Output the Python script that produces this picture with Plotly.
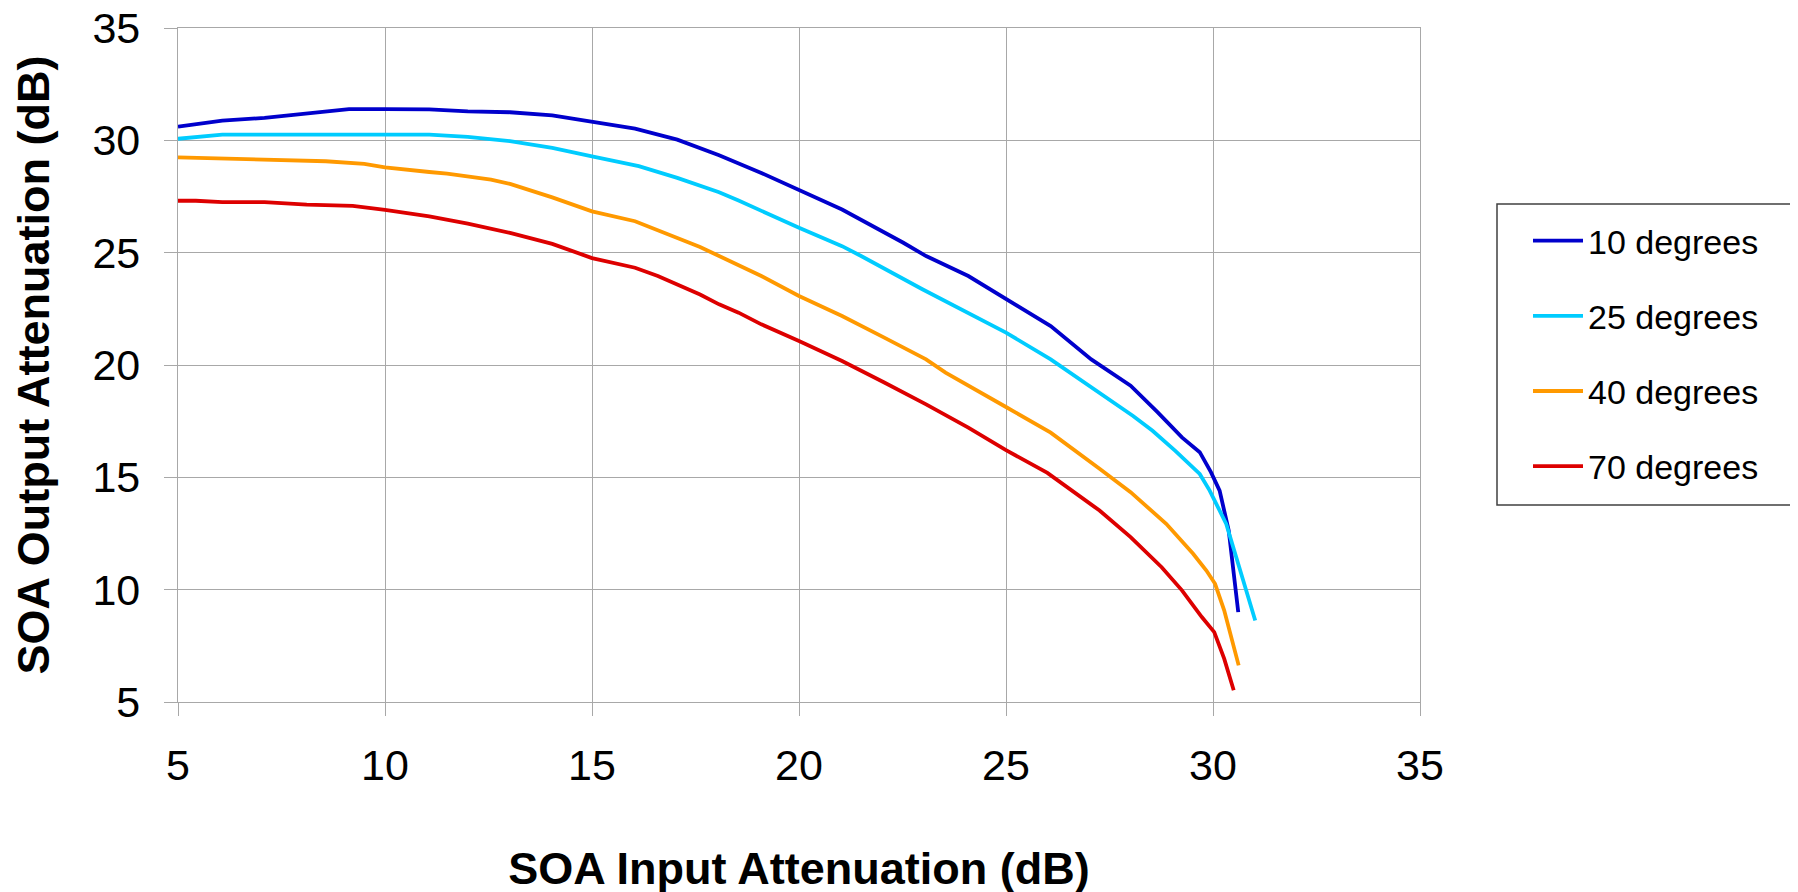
import plotly.graph_objects as go

x_10 = [5, 6.07, 7.09, 8.02, 8.67, 9.13, 10, 11.07, 12, 13.02, 14.04, 15, 16.04, 17.06, 18.07, 19.09, 20, 21.04, 22.52, 23.07, 24.09, 25, 26.08, 27.06, 28.01, 28.66, 29.25, 29.68, 29.95, 30.16, 30.38, 30.61]
y_10 = [30.61, 30.88, 31.0, 31.17, 31.32, 31.39, 31.39, 31.38, 31.29, 31.25, 31.11, 30.82, 30.52, 30.03, 29.34, 28.55, 27.81, 26.92, 25.44, 24.85, 23.96, 22.95, 21.73, 20.25, 19.08, 17.9, 16.78, 16.12, 15.23, 14.41, 12.63, 9.0]

x_25 = [5, 6.07, 11.07, 12, 13.02, 14.04, 15, 16.13, 17.06, 18.07, 18.54, 19.09, 20, 21.04, 21.5, 22.98, 24.09, 25, 26.08, 27.06, 28.07, 28.54, 29.09, 29.68, 29.92, 30.32, 31.02]
y_25 = [30.07, 30.25, 30.25, 30.15, 29.96, 29.66, 29.29, 28.85, 28.33, 27.69, 27.32, 26.85, 26.11, 25.29, 24.85, 23.37, 22.33, 21.44, 20.25, 18.99, 17.73, 17.07, 16.18, 15.15, 14.41, 12.93, 8.63]

x_40 = [5, 6.07, 7.09, 8.57, 9.5, 10, 11.07, 11.5, 12.56, 13.02, 14.04, 15, 16.04, 17.06, 17.61, 18.07, 19.09, 20, 21.04, 22.06, 23.07, 23.54, 24.09, 25, 26.08, 26.69, 27.26, 28.01, 28.87, 29.52, 29.84, 30.05, 30.27, 30.62]
y_40 = [29.24, 29.18, 29.12, 29.07, 28.95, 28.8, 28.59, 28.52, 28.25, 28.06, 27.46, 26.84, 26.4, 25.63, 25.25, 24.85, 23.96, 23.07, 22.18, 21.22, 20.25, 19.66, 19.07, 18.13, 16.99, 16.18, 15.38, 14.34, 12.93, 11.6, 10.85, 10.26, 9.08, 6.63]

x_70 = [5, 5.43, 6.07, 7.09, 8.11, 9.22, 10, 11.07, 12, 13.02, 14.04, 15, 16.04, 16.59, 17.61, 18.07, 18.54, 19.09, 20, 21.04, 22.06, 23.07, 24.09, 25, 26.0, 27.26, 28.01, 28.76, 29.25, 29.73, 30.03, 30.27, 30.5]
y_70 = [27.31, 27.31, 27.25, 27.25, 27.14, 27.08, 26.91, 26.62, 26.29, 25.88, 25.39, 24.76, 24.33, 23.96, 23.14, 22.7, 22.33, 21.81, 21.07, 20.18, 19.22, 18.25, 17.21, 16.21, 15.2, 13.52, 12.34, 11.0, 9.97, 8.78, 8.11, 6.93, 5.52]

series_names = ["10 degrees", "25 degrees", "40 degrees", "70 degrees"]
series_colors = ["#0000CC", "#00CCFF", "#FF9900", "#DD0000"]
tick_vals = [5, 10, 15, 20, 25, 30, 35]

FONT = "Liberation Sans, Arial, sans-serif"

W, H = 1798, 892
ML, MR, MT, MB = 170, 386, 20, 198   # body has an 8px default margin
PW = W - ML - MR
PH = H - MT - MB

def px_x(px):
    # page pixel -> paper x
    return (px - 8 - ML) / PW

def px_y(py):
    return 1 - (py - 8 - MT) / PH

fig = go.Figure()
for name, color, xs, ys in zip(series_names, series_colors,
                                [x_10, x_25, x_40, x_70],
                                [y_10, y_25, y_40, y_70]):
    fig.add_trace(go.Scatter(x=xs, y=ys, mode="lines", name=name, legendgroup=name,
                             line=dict(color=color, width=3.8)))

grid = "#a8a8a8"
fig.update_layout(
    width=W, height=H,
    paper_bgcolor="white", plot_bgcolor="white",
    margin=dict(l=ML, r=MR, t=MT, b=MB, pad=0, autoexpand=False),
    font=dict(family=FONT, color="black"),
    showlegend=True,
    legend=dict(
        x=px_x(1528), xanchor="left", y=px_y(212), yanchor="top",
        borderwidth=0, bgcolor="rgba(0,0,0,0)",
        font=dict(family=FONT, size=34, color="black"),
        tracegroupgap=28, itemwidth=50,
    ),
    shapes=[dict(type="rect", xref="paper", yref="paper",
                 x0=px_x(1497), x1=px_x(1797), y0=px_y(505), y1=px_y(204),
                 line=dict(color="#404040", width=1.5), fillcolor="rgba(0,0,0,0)", layer="above")],
)
fig.update_xaxes(
    range=[5, 35], tickvals=tick_vals, showgrid=True, gridcolor=grid, gridwidth=1.3,
    showline=True, linecolor=grid, linewidth=1.3, mirror=True, automargin=False,
    ticks="outside", ticklen=13, tickcolor=grid, tickwidth=1.3, ticklabelstandoff=12,
    ticklabeloverflow="allow",
    tickfont=dict(size=43, family=FONT), zeroline=False,
    title=dict(text="<b>SOA Input Attenuation (dB)</b>", font=dict(size=45, family=FONT), standoff=64),
)
fig.update_yaxes(
    range=[5, 35], tickvals=tick_vals, showgrid=True, gridcolor=grid, gridwidth=1.3,
    showline=True, linecolor=grid, linewidth=1.3, mirror=True, automargin=False,
    ticks="outside", ticklen=13, tickcolor=grid, tickwidth=1.3, ticklabelstandoff=15,
    ticklabeloverflow="allow",
    tickfont=dict(size=43, family=FONT), zeroline=False,
    title=dict(text="<b>SOA Output Attenuation (dB)</b>", font=dict(size=45, family=FONT), standoff=32),
)
fig.write_html("out.html")
